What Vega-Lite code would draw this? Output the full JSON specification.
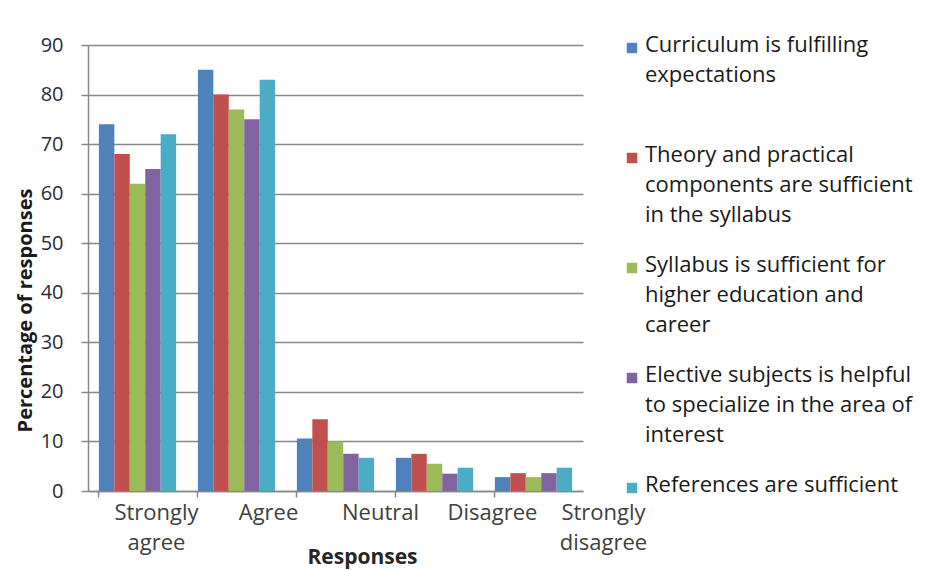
{
  "$schema": "https://vega.github.io/schema/vega-lite/v6.json",
  "width": 495,
  "height": 446,
  "autosize": {"type": "none"},
  "padding": {"left": 88, "top": 45, "right": 350, "bottom": 79},
  "background": "white",
  "data": {
    "values": [
      {"response": "Strongly agree", "statement": "Curriculum is fulfilling expectations", "pct": 74},
      {"response": "Strongly agree", "statement": "Theory and practical components are sufficient in the syllabus", "pct": 68},
      {"response": "Strongly agree", "statement": "Syllabus is sufficient for higher education and career", "pct": 62},
      {"response": "Strongly agree", "statement": "Elective subjects is helpful to specialize in the area of interest", "pct": 65},
      {"response": "Strongly agree", "statement": "References are sufficient", "pct": 72},
      {"response": "Agree", "statement": "Curriculum is fulfilling expectations", "pct": 85},
      {"response": "Agree", "statement": "Theory and practical components are sufficient in the syllabus", "pct": 80},
      {"response": "Agree", "statement": "Syllabus is sufficient for higher education and career", "pct": 77},
      {"response": "Agree", "statement": "Elective subjects is helpful to specialize in the area of interest", "pct": 75},
      {"response": "Agree", "statement": "References are sufficient", "pct": 83},
      {"response": "Neutral", "statement": "Curriculum is fulfilling expectations", "pct": 10.6},
      {"response": "Neutral", "statement": "Theory and practical components are sufficient in the syllabus", "pct": 14.5},
      {"response": "Neutral", "statement": "Syllabus is sufficient for higher education and career", "pct": 10},
      {"response": "Neutral", "statement": "Elective subjects is helpful to specialize in the area of interest", "pct": 7.5},
      {"response": "Neutral", "statement": "References are sufficient", "pct": 6.7},
      {"response": "Disagree", "statement": "Curriculum is fulfilling expectations", "pct": 6.7},
      {"response": "Disagree", "statement": "Theory and practical components are sufficient in the syllabus", "pct": 7.5},
      {"response": "Disagree", "statement": "Syllabus is sufficient for higher education and career", "pct": 5.5},
      {"response": "Disagree", "statement": "Elective subjects is helpful to specialize in the area of interest", "pct": 3.5},
      {"response": "Disagree", "statement": "References are sufficient", "pct": 4.7},
      {"response": "Strongly disagree", "statement": "Curriculum is fulfilling expectations", "pct": 2.8},
      {"response": "Strongly disagree", "statement": "Theory and practical components are sufficient in the syllabus", "pct": 3.6},
      {"response": "Strongly disagree", "statement": "Syllabus is sufficient for higher education and career", "pct": 2.8},
      {"response": "Strongly disagree", "statement": "Elective subjects is helpful to specialize in the area of interest", "pct": 3.6},
      {"response": "Strongly disagree", "statement": "References are sufficient", "pct": 4.7}
    ]
  },
  "mark": {"type": "bar"},
  "encoding": {
    "x": {
      "field": "response",
      "type": "nominal",
      "sort": ["Strongly agree", "Agree", "Neutral", "Disagree", "Strongly disagree"],
      "scale": {"paddingInner": 0.22, "paddingOuter": 0.11},
      "axis": {
        "title": "Responses",
        "titleFont": "Open Sans",
        "titleFontSize": 21,
        "titleFontWeight": "bold",
        "titleColor": "#262626",
        "titleX": 274,
        "titleY": 66,
        "titleBaseline": "middle",
        "labelAngle": 0,
        "labelFont": "Open Sans",
        "labelFontSize": 22,
        "labelColor": "#404040",
        "labelBaseline": "top",
        "labelPadding": 5,
        "labelLineHeight": 30,
        "labelExpr": "indexof(datum.label, 'Strongly') == 0 ? split(datum.label, ' ') : datum.label",
        "labelOffset": {
          "condition": [
            {"test": "datum.value == 'Strongly agree'", "value": 19},
            {"test": "datum.value == 'Agree'", "value": 32},
            {"test": "datum.value == 'Neutral'", "value": 45},
            {"test": "datum.value == 'Disagree'", "value": 58}
          ],
          "value": 70
        },
        "bandPosition": 0,
        "tickSize": 6,
        "tickColor": "#888888",
        "tickWidth": 1.5,
        "domainColor": "#888888",
        "domainWidth": 1.5
      }
    },
    "xOffset": {
      "field": "statement",
      "type": "nominal",
      "sort": [
        "Curriculum is fulfilling expectations",
        "Theory and practical components are sufficient in the syllabus",
        "Syllabus is sufficient for higher education and career",
        "Elective subjects is helpful to specialize in the area of interest",
        "References are sufficient"
      ]
    },
    "y": {
      "field": "pct",
      "type": "quantitative",
      "scale": {"domain": [0, 90], "nice": false},
      "axis": {
        "values": [0, 10, 20, 30, 40, 50, 60, 70, 80, 90],
        "title": "Percentage of responses",
        "titleFont": "Open Sans",
        "titleFontSize": 20,
        "titleFontWeight": "bold",
        "titleColor": "#1a1a1a",
        "titleAngle": 270,
        "titleAlign": "center",
        "titleBaseline": "middle",
        "titleX": -63,
        "titleY": 265,
        "labelFont": "Open Sans",
        "labelFontSize": 20,
        "labelColor": "#2b2b3b",
        "labelPadding": 18,
        "tickSize": 7,
        "tickColor": "#888888",
        "tickWidth": 1.5,
        "domainColor": "#888888",
        "domainWidth": 1.5,
        "grid": true,
        "gridColor": "#888888",
        "gridWidth": 1.5
      }
    },
    "color": {
      "field": "statement",
      "type": "nominal",
      "sort": [
        "Curriculum is fulfilling expectations",
        "Theory and practical components are sufficient in the syllabus",
        "Syllabus is sufficient for higher education and career",
        "Elective subjects is helpful to specialize in the area of interest",
        "References are sufficient"
      ],
      "scale": {"range": ["#4F81BD", "#C0504D", "#9BBB59", "#8064A2", "#4BACC6"]},
      "legend": {
        "title": null,
        "orient": "none",
        "legendX": 533,
        "legendY": -8,
        "symbolType": "square",
        "symbolSize": 110,
        "symbolStrokeWidth": 0,
        "symbolOpacity": 1,
        "labelFont": "Open Sans",
        "labelFontSize": 22,
        "labelColor": "#1a1a1a",
        "labelBaseline": "top",
        "labelLimit": 400,
        "labelOffset": 2,
        "rowPadding": 28,
        "labelExpr": "datum.label == 'Curriculum is fulfilling expectations' ? ['Curriculum is fulfilling', 'expectations', ' '] : datum.label == 'Theory and practical components are sufficient in the syllabus' ? ['Theory and practical', 'components are sufficient', 'in the syllabus'] : datum.label == 'Syllabus is sufficient for higher education and career' ? ['Syllabus is sufficient for', 'higher education and', 'career'] : datum.label == 'Elective subjects is helpful to specialize in the area of interest' ? ['Elective subjects is helpful', 'to specialize in the area of', 'interest'] : datum.label",
        "encode": {"labels": {"update": {"lineHeight": {"value": 30}, "dy": {"value": -13}}}}
      }
    }
  },
  "config": {"view": {"stroke": null}}
}
